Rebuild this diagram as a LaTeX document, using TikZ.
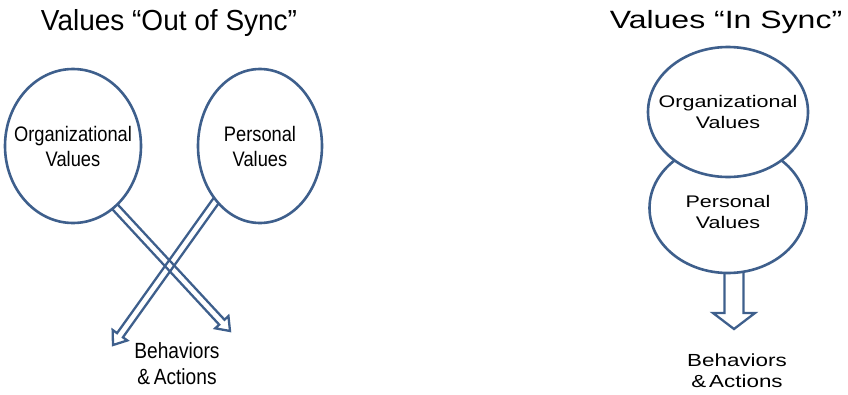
\documentclass[tikz,border=0pt]{standalone}
\usepackage{fontspec}
\setmainfont{Liberation Sans}
\newfontfamily\titleleft[FakeStretch=0.965]{Liberation Sans}
\newfontfamily\narrowtext[FakeStretch=0.87]{Liberation Sans}
\newfontfamily\widetext[FakeStretch=1.28]{Liberation Sans}
\usetikzlibrary{shapes.geometric,calc,backgrounds}
\definecolor{valblue}{RGB}{62,95,140}

% hollow block arrow: tail, tip, half shaft width, half head width, head length
\newcommand\hollowarrow[5]{%
  \path coordinate (hb) at ($(#2)!#5!(#1)$);
  \draw[blockarrow]
    ($(#1)!#3!90:(#2)$) -- ($(hb)!#3!-90:(#1)$) -- ($(hb)!#4!-90:(#1)$)
    -- (#2) -- ($(hb)!#4!90:(#1)$) -- ($(hb)!#3!90:(#1)$)
    -- ($(#1)!#3!-90:(#2)$) -- cycle;
}

\begin{document}
\begin{tikzpicture}[x=1pt,y=-1pt,
  valoval/.style={ellipse, draw=valblue, line width=2.6pt, fill=white,
    inner sep=0pt, outer sep=0pt},
  blockarrow/.style={draw=valblue, line width=2.3pt, line join=miter},
  lefttext/.style={font=\narrowtext\fontsize{21}{25}\selectfont, align=center},
  righttext/.style={font=\widetext\fontsize{16.8}{20.5}\selectfont, align=center}]
\useasboundingbox (0,0) rectangle (848,394);

% titles
\node[anchor=base, font=\titleleft\fontsize{29}{32}\selectfont] (titleL) at (169,30) {Values “Out of Sync”};
\node[anchor=base, font=\widetext\fontsize{25}{28}\selectfont] (titleR) at (726,28) {Values “In Sync”};

% out of sync: two separate value sets
\node[valoval, minimum width=136pt, minimum height=154pt] (orgL) at (73,146) {};
\node[valoval, minimum width=124pt, minimum height=154pt] (persL) at (260,146) {};
\node[lefttext] (orgLtext) at (orgL.center) {Organizational\\Values};
\node[lefttext] (persLtext) at (persL.center) {Personal\\Values};
\node[lefttext, font=\narrowtext\fontsize{22}{26}\selectfont] (behL) at (177,364) {Behaviors\\\&\,Actions};

\coordinate (tipA) at (230,331);
\coordinate (tipB) at (113,345);

% in sync: personal values behind organizational values
\node[valoval, minimum width=157pt, minimum height=130pt] (persR) at (728,208) {};
\node[righttext] (persRtext) at ($(persR.center)+(0,4)$) {Personal\\Values};
\node[valoval, minimum width=160pt, minimum height=130pt] (orgR) at (728,112) {};
\node[righttext] (orgRtext) at (orgR.center) {Organizational\\Values};
\node[righttext, font=\widetext\fontsize{17.5}{21}\selectfont] (behR) at (737,371) {Behaviors\\\&\,Actions};

\coordinate (tipC) at (734,329);

\begin{scope}[on background layer]
  \hollowarrow{$(orgL.-56)!5pt!(orgL.center)$}{tipA}{3.6pt}{9pt}{12pt}
  \hollowarrow{$(persL.-129)!5pt!(persL.center)$}{tipB}{3.6pt}{9pt}{12pt}
  \hollowarrow{$(persR.south)+(6,-6)$}{tipC}{9.5pt}{21pt}{16pt}
\end{scope}
\end{tikzpicture}
\end{document}
